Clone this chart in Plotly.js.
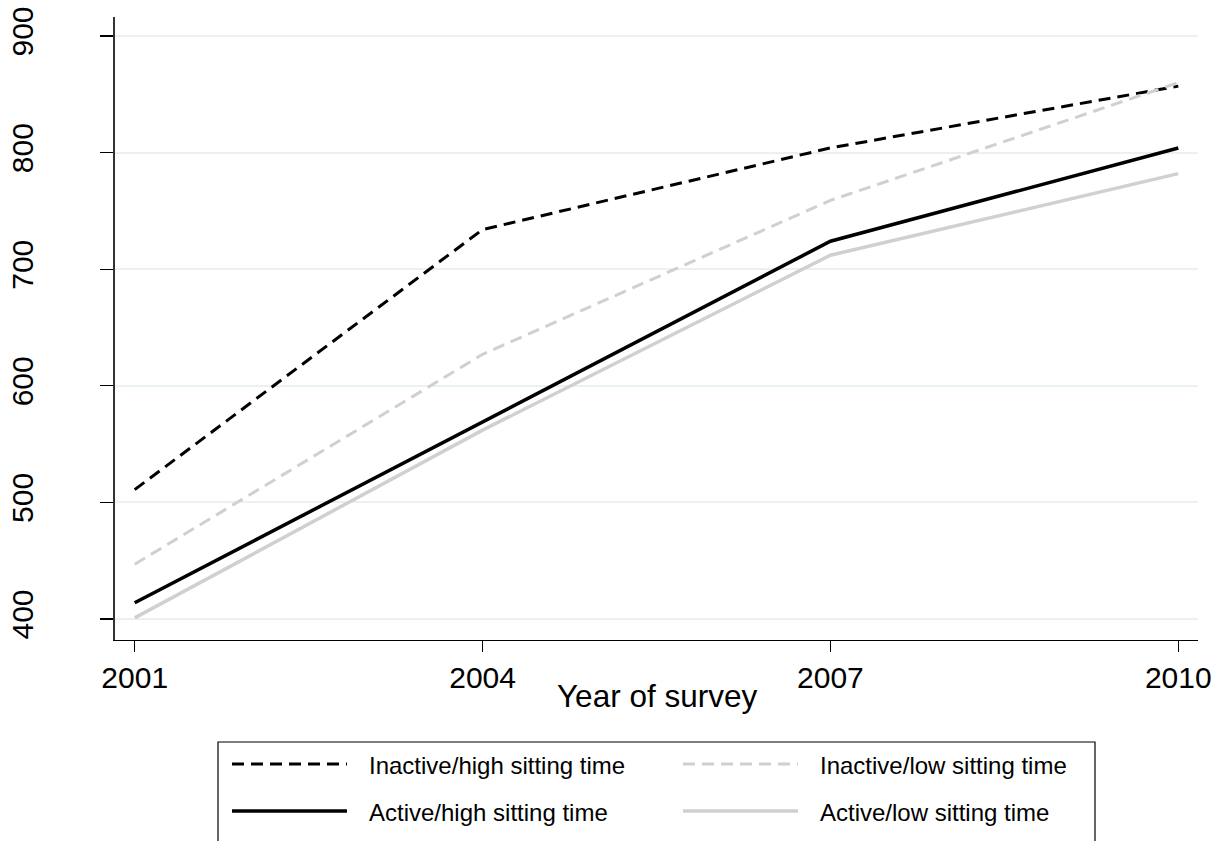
<!DOCTYPE html>
<html>
<head>
<meta charset="utf-8">
<script src="https://cdn.plot.ly/plotly-3.0.1.min.js"></script>
<style>html,body{margin:0;padding:0;background:#fff;}#chart{width:1223px;height:841px;}</style>
</head>
<body>
<div id="chart"></div>
<script>
const years = [2001, 2004, 2007, 2010];
const inactiveHigh = [511, 734, 804, 857];
const inactiveLow = [447, 627, 759, 860];
const activeHigh = [414, 569, 724, 804];
const activeLow = [401, 562, 712, 782];
const yTicks = [400, 500, 600, 700, 800, 900];
const names = ["Inactive/high sitting time", "Inactive/low sitting time", "Active/high sitting time", "Active/low sitting time"];
const xTitle = "Year of survey";

const FONT = "Liberation Sans, Arial, sans-serif";
const styles = [
  {color: "#000000", width: 3, dash: "12px,7px"},
  {color: "#d0d0d0", width: 3, dash: "12px,7px"},
  {color: "#000000", width: 3.5, dash: "solid"},
  {color: "#d0d0d0", width: 3.5, dash: "solid"}
];
const series = [inactiveHigh, inactiveLow, activeHigh, activeLow];

const traces = series.map((s, i) => ({
  x: years, y: s, name: names[i], mode: "lines", line: styles[i], showlegend: false
}));

// plot area in pixels: left 115, right 1198, top 17, bottom 640
const PL = 115, PR = 1198, PT = 17, PB = 640;
const px = v => (v - PL) / (PR - PL);
const py = v => (PB - v) / (PB - PT);

// legend layout (pixel positions of the key box)
const keyCols = [232, 683];
const keyRows = [764, 811];
const shapes = [{
  type: "rect", xref: "paper", yref: "paper",
  x0: px(218), x1: px(1095), y0: py(742), y1: py(860),
  line: {color: "#000", width: 1.2}, fillcolor: "rgba(0,0,0,0)"
}];
const annotations = [{
  xref: "paper", yref: "paper", x: 0.5, y: py(696),
  xanchor: "center", yanchor: "middle", showarrow: false, text: xTitle,
  font: {family: FONT, size: 31.5, color: "#000"}
}];
names.forEach((n, i) => {
  const c = keyCols[i % 2], r = keyRows[Math.floor(i / 2)];
  shapes.push({
    type: "line", xref: "paper", yref: "paper",
    x0: px(c), x1: px(c + 115), y0: py(r), y1: py(r),
    line: {color: styles[i].color, width: styles[i].width, dash: styles[i].dash}
  });
  annotations.push({
    xref: "paper", yref: "paper", x: px(c + 135), y: py(r + 1),
    xanchor: "left", yanchor: "middle", showarrow: false, text: n,
    font: {family: FONT, size: 24, color: "#000"}
  });
});

const layout = {
  width: 1223, height: 841,
  margin: {l: PL, r: 1223 - PR, t: PT, b: 841 - PB},
  paper_bgcolor: "#ffffff", plot_bgcolor: "#ffffff",
  font: {family: FONT, color: "#000"},
  showlegend: false,
  xaxis: {
    range: [2000.83, 2010.17], tickvals: years, ticktext: years.map(String),
    showgrid: false, zeroline: false, showline: true, linecolor: "#000", linewidth: 1.3,
    ticks: "outside", ticklen: 11, tickwidth: 1.3, tickcolor: "#000",
    tickfont: {family: FONT, size: 30, color: "#000"}
  },
  yaxis: {
    range: [382, 916.3], tickvals: yTicks, ticktext: yTicks.map(String),
    showgrid: true, gridcolor: "#e9f1f2", gridwidth: 2,
    zeroline: false, showline: true, linecolor: "#333", linewidth: 1.6,
    ticks: "outside", ticklen: 13, tickwidth: 1.3, tickcolor: "#000",
    tickangle: -90, ticklabelstandoff: 55,
    tickfont: {family: FONT, size: 30, color: "#000"}
  },
  shapes: shapes,
  annotations: annotations
};

Plotly.newPlot("chart", traces, layout, {displayModeBar: false, staticPlot: true});
</script>
</body>
</html>
